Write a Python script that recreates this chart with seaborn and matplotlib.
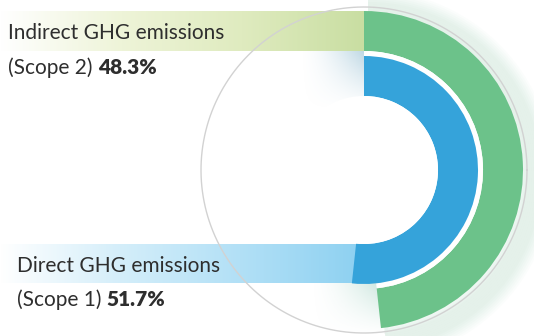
import numpy as np
import matplotlib.pyplot as plt
import seaborn as sns
from matplotlib.colors import LinearSegmentedColormap, to_rgb

### DATA
labels = ["Indirect GHG emissions", "Direct GHG emissions"]
scopes = ["(Scope 2)", "(Scope 1)"]
shares = [48.3, 51.7]          # percent of total
ring_colors = ["#6cc28a", "#35a3da"]

sns.set_theme(style="white")
plt.rcParams['font.family'] = ['Lato', 'DejaVu Sans']

W, H = 534, 336
fig = plt.figure(figsize=(W / 100, H / 100), dpi=100)
ax = fig.add_axes([0, 0, 1, 1])

cx, cy = 364, 166   # ring centre (pixel coords, y up)

# gradient bands behind the labels
def band(x0, x1, y0, y1, cols, z=1):
    cmap = LinearSegmentedColormap.from_list("b", cols)
    grad = np.linspace(0, 1, 256).reshape(1, -1)
    ax.imshow(grad, cmap=cmap, extent=[x0, x1, y0, y1], aspect="auto", zorder=z)

# soft shadow patch: alpha grows to the right and towards the top
def shade(x0, x1, y0, y1, color, amax, z=2):
    xs = np.linspace(0, 1, 100)
    ys = np.linspace(1, 0, 100)
    a = np.outer(ys ** 1.2, xs ** 1.6) * amax
    img = np.zeros((100, 100, 4))
    img[..., :3] = to_rgb(color)
    img[..., 3] = a
    ax.imshow(img, extent=[x0, x1, y0, y1], aspect="auto", zorder=z, interpolation="bilinear")

band(0, cx, H - 51, H - 11, ["#ffffff", "#eef4d8", "#dfebbf", "#c9dea2"])
band(0, cx - 4, H - 283, H - 244, ["#ffffff", "#d4eefa", "#b2e0f6", "#8ed1f1"])

shade(300, cx, H - 110, H - 51, "#a9cbdb", 0.75)
shade(310, 388, H - 335, H - 283, "#9ccfc0", 0.6)

# soft glow around the green ring, shifted to lower right
for k in range(14):
    ax.pie([shares[0], 100 - shares[0]], colors=["#6cc28a", "none"], radius=160 + 2 * k,
           center=(cx + 4, cy - 6), startangle=90, counterclock=False,
           wedgeprops=dict(width=14, alpha=0.022, linewidth=0), frame=True)

# outer thin circle
t = np.linspace(0, 2 * np.pi, 400)
ax.plot(cx + 163 * np.cos(t), cy + 163 * np.sin(t), color="#d2d2d2", lw=1.0, zorder=3)

# green ring (scope 2), outer
ax.pie([shares[0], 100 - shares[0]], colors=[ring_colors[0], "none"], radius=159,
       center=(cx, cy), startangle=90, counterclock=False,
       wedgeprops=dict(width=40, linewidth=0, zorder=4), frame=True)
# white separator
ax.pie([shares[0], 100 - shares[0]], colors=["white", "none"], radius=119,
       center=(cx, cy), startangle=90, counterclock=False,
       wedgeprops=dict(width=5, linewidth=0, zorder=4), frame=True)
# blue ring (scope 1), inner
ax.pie([shares[1], 100 - shares[1]], colors=[ring_colors[1], "none"], radius=114,
       center=(cx, cy), startangle=90, counterclock=False,
       wedgeprops=dict(width=40, linewidth=0, zorder=5), frame=True)
# white hole
ax.pie([1], colors=["white"], radius=74, center=(cx, cy),
       wedgeprops=dict(linewidth=0, zorder=5), frame=True)

ax.set_xlim(0, W)
ax.set_ylim(0, H)
ax.set_aspect("auto")
ax.axis("off")

# labels
txt = "#2e2e2e"
pos = [(8, H - 33, H - 68), (17, H - 266, H - 300)]
fig.canvas.draw()
r = fig.canvas.get_renderer()
for (x, y1, y2), lab, sc, v in zip(pos, labels, scopes, shares):
    ax.text(x, y1, lab, fontsize=15, fontweight="normal", color=txt, va="center", zorder=6)
    t1 = ax.text(x, y2, sc + " ", fontsize=15, fontweight="normal", color=txt, va="center", zorder=6)
    bb = t1.get_window_extent(renderer=r)
    x2 = ax.transData.inverted().transform((bb.x1, 0))[0]
    ax.text(x2, y2, f"{v}%", fontsize=15, fontweight="heavy", color=txt, va="center", zorder=6)

fig.savefig("out.png", dpi=100)
